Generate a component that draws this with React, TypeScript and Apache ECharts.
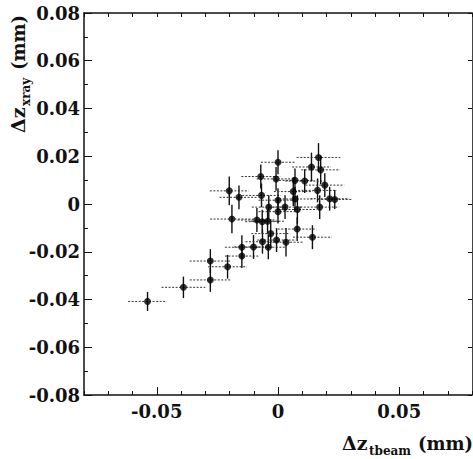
import { useEffect, useRef } from 'react';
import * as echarts from 'echarts';

// Δz_tbeam (mm), Δz_xray (mm) and their errors
const tbeam = [
  -0.0538, -0.039, -0.0279, -0.0279, -0.0208, -0.0149, -0.0149, -0.0101, -0.004, -0.0064,
  -0.0006, 0.0033, 0.0142, 0.0079, -0.003, -0.019, -0.0087, -0.0065, -0.0043, 0.0,
  0.008, -0.0038, 0.0029, 0.0172, -0.0201, -0.0161, -0.0068, 0.0, 0.0063, 0.007,
  0.0163, 0.0213, 0.0234, 0.0193, -0.0071, -0.0008, 0.007, 0.011, 0.0, 0.0138,
  0.0176, 0.0167,
];
const xray = [
  -0.0408, -0.0349, -0.0318, -0.0239, -0.0263, -0.0218, -0.0181, -0.018, -0.0181, -0.0158,
  -0.0151, -0.016, -0.0139, -0.0105, -0.0124, -0.0063, -0.0067, -0.0074, -0.0072, -0.0032,
  -0.0023, -0.0013, -0.0013, -0.0013, 0.0055, 0.0028, 0.0036, 0.0016, 0.0052, 0.0021,
  0.0057, 0.0022, 0.0019, 0.0079, 0.0115, 0.0105, 0.0099, 0.0096, 0.0175, 0.0155,
  0.0143, 0.0195,
];
const tbeamErr = [
  0.008, 0.009, 0.0085, 0.0085, 0.008, 0.007, 0.007, 0.008, 0.007, 0.007,
  0.008, 0.007, 0.008, 0.008, 0.008, 0.009, 0.008, 0.007, 0.007, 0.008,
  0.008, 0.007, 0.007, 0.008, 0.008, 0.008, 0.008, 0.008, 0.008, 0.008,
  0.008, 0.008, 0.007, 0.008, 0.008, 0.008, 0.008, 0.008, 0.007, 0.008,
  0.008, 0.009,
];
const xrayErr = [
  0.004, 0.0045, 0.005, 0.005, 0.005, 0.005, 0.005, 0.005, 0.005, 0.005,
  0.005, 0.006, 0.005, 0.005, 0.006, 0.006, 0.005, 0.005, 0.005, 0.005,
  0.006, 0.005, 0.005, 0.005, 0.006, 0.005, 0.005, 0.005, 0.006, 0.005,
  0.005, 0.005, 0.004, 0.005, 0.005, 0.005, 0.005, 0.005, 0.005, 0.006,
  0.006, 0.006,
];

const xMajorTicks = [-0.05, 0, 0.05];
const yMin = -0.08;
const yMax = 0.08;
const xMin = -0.08;
const xMax = 0.08;

const FONT = 'DejaVu Serif';
const INK = '#111';

const fmt = (v: number) => (Math.abs(v) < 1e-9 ? '0' : String(Number(v.toFixed(3))));

const titleText = (text: string, x: number, y: number, size: number) => ({
  type: 'text',
  x,
  y,
  style: { text, fontFamily: FONT, fontWeight: 'bold', fontSize: size, fill: INK, verticalAlign: 'bottom' },
});

export default function App() {
  const ref = useRef<HTMLDivElement>(null);

  useEffect(() => {
    if (!ref.current) return;
    const chart = echarts.init(ref.current, undefined, { renderer: 'svg' });

    const points = tbeam.map((x, i) => [x, xray[i], tbeamErr[i], xrayErr[i]]);
    const axisLine = { show: true, onZero: false, lineStyle: { color: INK, width: 1.5 } };
    const label = { color: INK, fontFamily: FONT, fontWeight: 'bold' as const, fontSize: 18 };

    chart.setOption({
      animation: false,
      grid: { left: 84, right: 1, top: 13, bottom: 64 },
      xAxis: [
        {
          type: 'value', position: 'bottom', min: xMin, max: xMax,
          axisLine,
          splitLine: { show: false },
          axisTick: { inside: true, length: 8, customValues: xMajorTicks, lineStyle: { color: INK } },
          axisLabel: { ...label, margin: 7, customValues: xMajorTicks, formatter: fmt },
        },
        {
          type: 'value', position: 'bottom', min: xMin, max: xMax, interval: 0.01,
          axisLine: { show: false, onZero: false },
          splitLine: { show: false },
          axisTick: { inside: true, length: 4, lineStyle: { color: INK } },
          axisLabel: { show: false },
        },
        {
          type: 'value', position: 'top', min: xMin, max: xMax, interval: 0.01,
          axisLine,
          splitLine: { show: false },
          axisTick: { inside: true, length: 4, lineStyle: { color: INK } },
          axisLabel: { show: false },
        },
      ],
      yAxis: [
        {
          type: 'value', position: 'left', min: yMin, max: yMax, interval: 0.02,
          axisLine,
          splitLine: { show: false },
          axisTick: { inside: true, length: 8, lineStyle: { color: INK } },
          minorTick: { show: true, splitNumber: 2, length: 4, lineStyle: { color: INK } },
          axisLabel: { ...label, margin: 4, formatter: fmt },
        },
        {
          type: 'value', position: 'right', min: yMin, max: yMax, interval: 0.02,
          axisLine: { show: true, onZero: false, lineStyle: { color: '#444', width: 1 } },
          splitLine: { show: false },
          axisTick: { inside: true, length: 4, lineStyle: { color: INK } },
          axisLabel: { show: false },
        },
      ],
      series: [
        {
          type: 'custom',
          xAxisIndex: 0,
          yAxisIndex: 0,
          encode: { x: 0, y: 1 },
          data: points,
          renderItem: (_params: any, api: any) => {
            const x = api.value(0);
            const y = api.value(1);
            const ex = api.value(2);
            const ey = api.value(3);
            const l = api.coord([x - ex, y]);
            const r = api.coord([x + ex, y]);
            const b = api.coord([x, y - ey]);
            const t = api.coord([x, y + ey]);
            return {
              type: 'group',
              children: [
                {
                  type: 'line',
                  shape: { x1: l[0], y1: l[1], x2: r[0], y2: r[1] },
                  style: { stroke: '#333', lineWidth: 1, lineDash: [2, 1.5] },
                },
                {
                  type: 'line',
                  shape: { x1: b[0], y1: b[1], x2: t[0], y2: t[1] },
                  style: { stroke: '#111', lineWidth: 1.4 },
                },
              ],
            };
          },
          z: 2,
        },
        {
          type: 'scatter',
          xAxisIndex: 0,
          yAxisIndex: 0,
          symbol: 'circle',
          symbolSize: 7,
          itemStyle: { color: '#000' },
          data: points.map((p) => [p[0], p[1]]),
          z: 3,
        },
      ],
      graphic: [
        {
          type: 'group',
          x: 27,
          y: 133,
          rotation: Math.PI / 2,
          children: [
            titleText('Δz', 0, 0, 19),
            titleText('xray', 27, 5, 12),
            titleText('(mm)', 63, 0, 18),
          ],
        },
        {
          type: 'group',
          x: 342,
          y: 452,
          children: [
            titleText('Δz', 0, 0, 19),
            titleText('tbeam', 27, 5, 12),
            titleText('(mm)', 76, 0, 18),
          ],
        },
      ],
    });

    return () => chart.dispose();
  }, []);

  return <div ref={ref} style={{ position: 'fixed', left: 0, top: 0, width: 473, height: 459, background: '#fff' }} />;
}
